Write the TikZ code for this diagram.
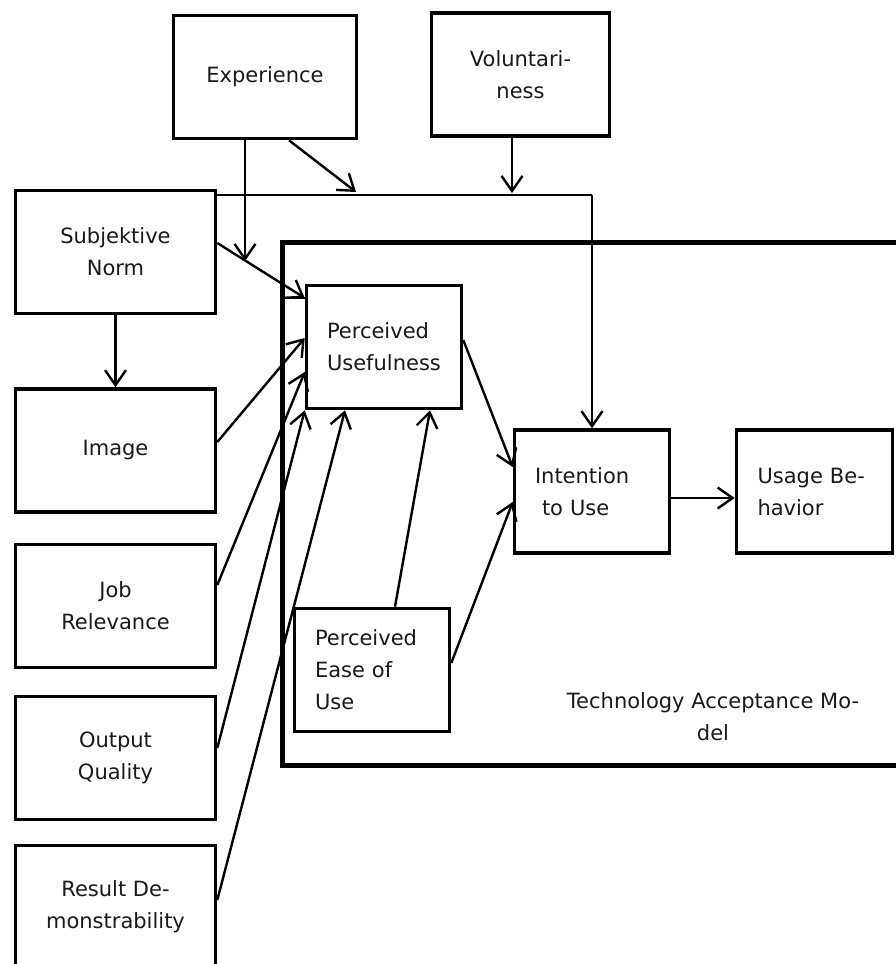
\documentclass[tikz,border=0pt]{standalone}
\usepackage{fontspec}
\setmainfont{DejaVu Sans}
\usetikzlibrary{arrows.meta}
\tikzset{
  box/.style={draw, line width=3.6pt, rectangle, inner sep=0pt, minimum height=123pt,
    font=\fontsize{21pt}{32pt}\selectfont, text=black!90},
  cbox/.style={box, align=center},
  lbox/.style={box, align=left},
  conn/.style={line width=2.4pt, -{Straight Barb[length=15pt,width=21pt,line width=2.4pt]}},
  plain/.style={line width=2.4pt},
}
\begin{document}
\begin{tikzpicture}[x=1pt,y=-1pt]
\useasboundingbox (0,0) rectangle (895,964);
% TAM frame
\node[draw, line width=5pt, rectangle, minimum width=628pt, minimum height=523pt] (tam) at (596,503.5) {};
\node[font=\fontsize{21pt}{32pt}\selectfont, align=center, text=black!90] (tamlabel) at (713,717) {Technology Acceptance Mo-\\del};
% boxes
\node[cbox, minimum width=183pt] (exp) at (265,77) {Experience};
\node[cbox, minimum width=178pt] (vol) at (520.5,74.5) {Voluntari-\\ness};
\node[cbox, minimum width=200pt] (sn) at (115.5,252) {Subjektive\\Norm};
\node[cbox, minimum width=200pt] (img) at (115.5,450.5) {Image};
\node[cbox, minimum width=200pt] (jr) at (115.5,606) {Job\\Relevance};
\node[cbox, minimum width=200pt] (oq) at (115.5,758) {Output\\Quality};
\node[cbox, minimum width=200pt] (rd) at (115.5,907) {Result De-\\monstrability};
\node[lbox, minimum width=155pt, text width=114pt] (pu) at (384,347) {Perceived\\Usefulness};
\node[lbox, minimum width=155pt, text width=114pt] (peou) at (372,670) {Perceived\\Ease of\\Use};
\node[lbox, minimum width=155pt, text width=114pt] (int) at (592,491.5) {Intention\\\hspace*{7pt}to Use};
\node[lbox, minimum width=156pt, text width=114pt] (ub) at (814.5,491.5) {Usage Be-\\havior};
% moderation targets
\coordinate (m1) at (245,261);
\coordinate (m2) at (356,192);
\coordinate (m3) at (512,193);
% connectors
\draw[plain] ([yshift=57pt]sn.east) -- ([yshift=57pt]sn.east -| int.north);
\draw[conn] ([yshift=57pt]sn.east -| int.north) -- (int.north);
\draw[conn] ([xshift=-20pt]exp.south) -- (m1);
\draw[conn] ([xshift=24pt]exp.south) -- (m2);
\draw[conn] ([xshift=-8.5pt]vol.south) -- (m3);
\draw[conn] ([yshift=9pt]sn.east) -- ([yshift=49pt]pu.west);
\draw[plain] ([yshift=49pt]pu.west) -- ([yshift=49pt]pu.west -| tam.west);
\draw[conn] (sn.south) -- (img.north);
\draw[conn] ([yshift=8.5pt]img.east) -- ([yshift=9pt]pu.west);
\draw[conn] ([yshift=21pt]jr.east) -- ([yshift=-25pt]pu.west);
\draw[conn] ([yshift=10pt]oq.east) -- (pu.south west);
\draw[conn] ([yshift=7pt]rd.east) -- ([xshift=-39pt]pu.south);
\draw[conn] ([xshift=23pt]peou.north) -- ([xshift=46pt]pu.south);
\draw[conn] ([yshift=7pt]peou.east) -- ([yshift=-10.5pt]int.west);
\draw[conn] ([yshift=7pt]pu.east) -- ([yshift=24.5pt]int.west);
\draw[conn] ([yshift=-6.5pt]int.east) -- ([yshift=-6.5pt]int.east -| ub.west);
\end{tikzpicture}
\end{document}
